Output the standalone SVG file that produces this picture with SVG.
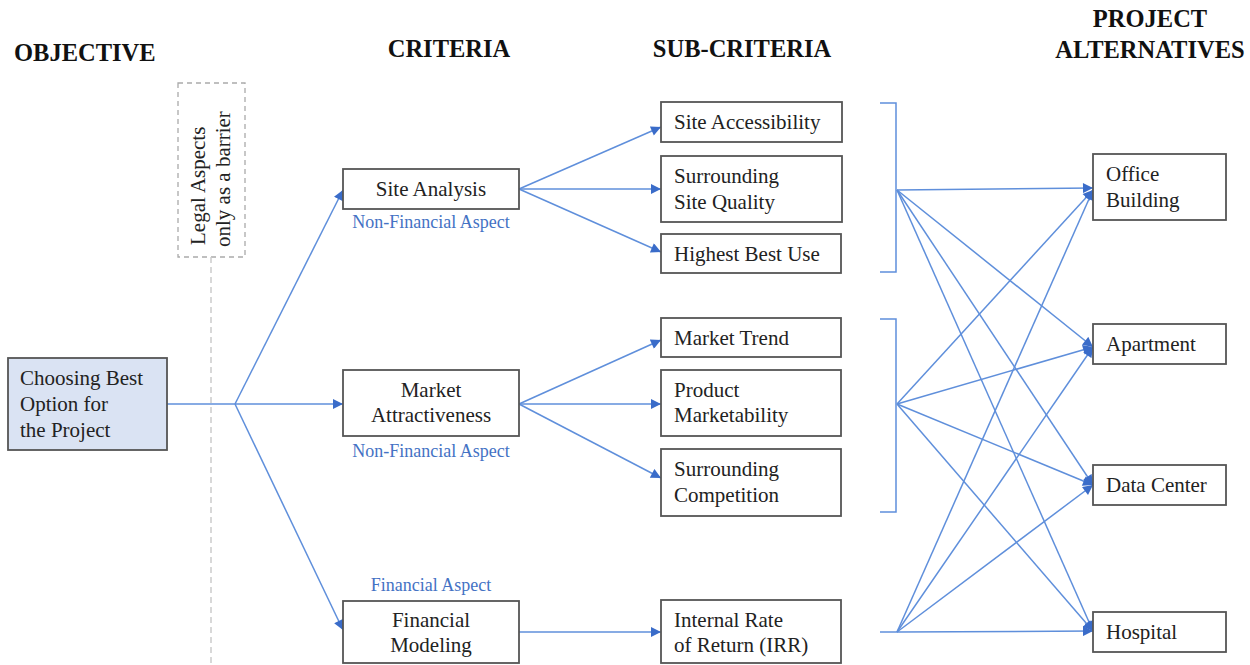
<svg xmlns="http://www.w3.org/2000/svg" width="1250" height="665" viewBox="0 0 1250 665">
<defs>
<marker id="ah" viewBox="0 0 10 10" refX="10" refY="5" markerWidth="11" markerHeight="10" markerUnits="userSpaceOnUse" orient="auto">
<path d="M0,0 L10,5 L0,10 z" fill="#3a6cc9"/>
</marker>
<style>
.title{font-family:"Liberation Serif",serif;font-weight:bold;font-size:24.5px;fill:#111}
.box{fill:#fff;stroke:#555;stroke-width:1.8}
.obj{fill:#dae3f3;stroke:#555;stroke-width:1.8}
.t{font-family:"Liberation Serif",serif;font-size:21px;fill:#222}
.c{text-anchor:middle}
.blue{font-family:"Liberation Serif",serif;font-size:18px;fill:#4472c4}
.ln{stroke:#5f8fdb;stroke-width:1.5;fill:none}
.ar{stroke:#5f8fdb;stroke-width:1.5;fill:none;marker-end:url(#ah)}
</style>
</defs>
<g id="titles">
<text class="title" x="14" y="61">OBJECTIVE</text>
<text class="title c" x="449" y="57">CRITERIA</text>
<text class="title c" x="742" y="57">SUB-CRITERIA</text>
<text class="title c" x="1150" y="27">PROJECT</text>
<text class="title c" x="1150" y="58">ALTERNATIVES</text>
</g>
<g id="legal">
<rect x="178" y="83" width="67" height="174" fill="none" stroke="#aaa" stroke-width="1.3" stroke-dasharray="5,4"/>
<line x1="211" y1="257" x2="211" y2="665" stroke="#ccc" stroke-width="1.5" stroke-dasharray="6,4"/>
<text class="t" transform="translate(205,245) rotate(-90)">Legal Aspects</text>
<text class="t" transform="translate(230,247) rotate(-90)">only as a barrier</text>
</g>
<g id="connectors">
<path class="ln" d="M167,404 L235,404"/>
<path class="ar" d="M235,404 L343,190"/>
<path class="ar" d="M235,404 L343,404"/>
<path class="ar" d="M235,404 L343,630"/>
<path class="ar" d="M519,189 L661,127"/>
<path class="ar" d="M519,189 L661,189"/>
<path class="ar" d="M519,189 L661,252"/>
<path class="ar" d="M519,404 L661,340"/>
<path class="ar" d="M519,404 L661,404"/>
<path class="ar" d="M519,404 L661,478"/>
<path class="ar" d="M519,632 L661,632"/>
<path class="ln" d="M880,103 L896,103 L896,272 L880,272"/>
<path class="ln" d="M880,319 L896,319 L896,512 L880,512"/>
<path class="ln" d="M880,632 L897,632"/>
<path class="ar" d="M897,190 L1093,188"/>
<path class="ar" d="M897,190 L1093,347"/>
<path class="ar" d="M897,190 L1093,485"/>
<path class="ar" d="M897,190 L1093,631"/>
<path class="ar" d="M897,404 L1093,190"/>
<path class="ar" d="M897,404 L1093,347"/>
<path class="ar" d="M897,404 L1093,485"/>
<path class="ar" d="M897,404 L1093,631"/>
<path class="ar" d="M897,632 L1093,190"/>
<path class="ar" d="M897,632 L1093,347"/>
<path class="ar" d="M897,632 L1093,485"/>
<path class="ar" d="M897,632 L1093,631"/>
</g>
<g id="objective">
<rect class="obj" x="8" y="358" width="159" height="92"/>
<text class="t" x="20" y="385">Choosing Best</text>
<text class="t" x="20" y="411">Option for</text>
<text class="t" x="20" y="437">the Project</text>
</g>
<g id="site-analysis">
<rect class="box" x="343" y="169" width="176" height="40"/>
<text class="t c" x="431" y="196">Site Analysis</text>
<text class="blue c" x="431" y="228">Non-Financial Aspect</text>
</g>
<g id="market-attractiveness">
<rect class="box" x="343" y="370" width="176" height="66"/>
<text class="t c" x="431" y="397">Market</text>
<text class="t c" x="431" y="422">Attractiveness</text>
<text class="blue c" x="431" y="457">Non-Financial Aspect</text>
</g>
<g id="financial-modeling">
<text class="blue c" x="431" y="591">Financial Aspect</text>
<rect class="box" x="343" y="601" width="176" height="62"/>
<text class="t c" x="431" y="627">Financial</text>
<text class="t c" x="431" y="652">Modeling</text>
</g>
<g id="site-accessibility">
<rect class="box" x="661" y="102" width="181" height="40"/>
<text class="t" x="674" y="129">Site Accessibility</text>
</g>
<g id="surrounding-site-quality">
<rect class="box" x="661" y="156" width="181" height="66"/>
<text class="t" x="674" y="183">Surrounding</text>
<text class="t" x="674" y="209">Site Quality</text>
</g>
<g id="highest-best-use">
<rect class="box" x="661" y="234" width="180" height="39"/>
<text class="t" x="674" y="261">Highest Best Use</text>
</g>
<g id="market-trend">
<rect class="box" x="661" y="318" width="180" height="39"/>
<text class="t" x="674" y="345">Market Trend</text>
</g>
<g id="product-marketability">
<rect class="box" x="661" y="370" width="180" height="66"/>
<text class="t" x="674" y="397">Product</text>
<text class="t" x="674" y="422">Marketability</text>
</g>
<g id="surrounding-competition">
<rect class="box" x="661" y="449" width="180" height="67"/>
<text class="t" x="674" y="476">Surrounding</text>
<text class="t" x="674" y="502">Competition</text>
</g>
<g id="irr">
<rect class="box" x="661" y="600" width="180" height="63"/>
<text class="t" x="674" y="627">Internal Rate</text>
<text class="t" x="674" y="652">of Return (IRR)</text>
</g>
<g id="office-building">
<rect class="box" x="1093" y="154" width="133" height="66"/>
<text class="t" x="1106" y="181">Office</text>
<text class="t" x="1106" y="207">Building</text>
</g>
<g id="apartment">
<rect class="box" x="1093" y="324" width="133" height="40"/>
<text class="t" x="1106" y="351">Apartment</text>
</g>
<g id="data-center">
<rect class="box" x="1093" y="465" width="133" height="40"/>
<text class="t" x="1106" y="492">Data Center</text>
</g>
<g id="hospital">
<rect class="box" x="1093" y="612" width="133" height="40"/>
<text class="t" x="1106" y="639">Hospital</text>
</g>
</svg>
